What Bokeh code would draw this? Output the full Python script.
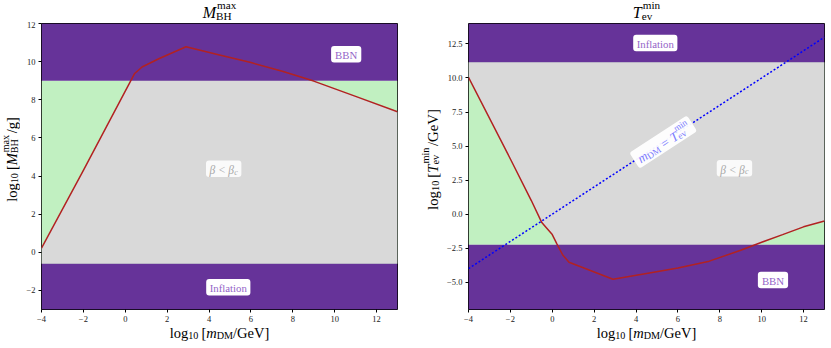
import math
from bokeh.plotting import figure
from bokeh.layouts import row, column
from bokeh.models import Range1d, Label, FixedTicker, CustomJSTickFormatter
from bokeh.embed import file_html
from bokeh.resources import INLINE

# ---------------- data ----------------
mdm_left = [-4, -2, 0, 0.45, 0.8, 1.6, 2.9, 4.5, 6, 7.5, 9, 11, 13]
log_mbh_max = [0.22, 4.3, 8.45, 9.38, 9.72, 10.15, 10.78, 10.35, 9.95, 9.5, 8.98, 8.18, 7.37]

mdm_right = [-4, -2, -1, -0.5, 0, 0.22, 0.5, 0.8, 2.9, 4.5, 6, 7.5, 9, 10, 11, 12, 13]
log_tev_min = [10.04, 4.05, 1.0, -0.62, -1.5, -2.18, -3.0, -3.53, -4.78, -4.35, -3.95,
               -3.45, -2.65, -2.06, -1.5, -0.93, -0.5]

diag_line = [-4, 13]          # m_DM = T_ev

mbh_bbn_limit = 9.0
mbh_inflation_limit = -0.6
tev_inflation_limit = 11.15
tev_bbn_limit = -2.25

x_lim = (-4, 13)
y_lim_left = (-3, 12)
y_lim_right = (-7, 14)
x_ticks = [-4, -2, 0, 2, 4, 6, 8, 10, 12]
y_ticks_left = [-2, 0, 2, 4, 6, 8, 10, 12]
y_ticks_right = [-5.0, -2.5, 0.0, 2.5, 5.0, 7.5, 10.0, 12.5]

# ---------------- style ----------------
SERIF = "Liberation Serif"
PURPLE = "#663399"
GREEN = "#c1f0c1"
GRAY = "#d9d9d9"
RED = "#b22222"
BLUE = "#0000ff"
LAV = "#9466c8"
FRAME_W = 356
FRAME_H = 286
TOP_B, BOT_B = 2, 17
TITLE_H, XLAB_H = 21, 21
MAIN_H = TOP_B + FRAME_H + BOT_B
BASE_FIX = 0.24   # renderer places the alphabetic baseline a bit low

ROMAN = {' ': 250, '[': 333, ']': 333, '/': 278, '=': 564, '<': 564,
         'a': 444, 'e': 444, 'g': 500, 'i': 278, 'l': 278, 'm': 778, 'n': 500,
         'o': 500, 'v': 500, 'x': 500, 'c': 444, 'f': 333, 't': 278,
         'B': 667, 'D': 722, 'G': 722, 'H': 722, 'I': 333, 'M': 889, 'N': 722,
         'T': 611, 'V': 722}
ITALIC = {'m': 722, 'M': 833, 'T': 556, 'β': 520, 'c': 444}


def tw(s, size, italic=False):
    tab = ITALIC if italic else ROMAN
    return sum(tab.get(c, 500) for c in s) * size / 1000.0


def layout_runs(runs, base):
    pieces = []
    x = 0.0
    small = base * 0.7
    for r in runs:
        k = r[0]
        if k == "t":
            it = r[2] if len(r) > 2 else False
            pieces.append((r[1], base, it, x, 0.0))
            x += tw(r[1], base, it)
        elif k == "s":
            it = r[2] if len(r) > 2 else False
            pieces.append((r[1], small, it, x, -0.2 * base))
            x += tw(r[1], small, it)
        elif k == "ss":
            pieces.append((r[1], small, False, x, -0.2 * base))
            pieces.append((r[2], small, False, x + 0.06 * base, 0.47 * base))
            x += max(tw(r[1], small), tw(r[2], small) + 0.06 * base)
        elif k == "g":
            x += r[1]
    return pieces, x


def place(p, x, y, runs, base, color, angle=0.0, centered=False, box=None):
    pieces, w = layout_runs(runs, base)
    ca, sa = math.cos(angle), math.sin(angle)
    vshift = -0.12 * base if centered else BASE_FIX * base
    if box is not None:
        padx, h, alpha = box
        r = p.rect(x=[x], y=[y], width=w + 2 * padx, height=h, width_units="screen",
                   height_units="screen", angle=angle, fill_color="white",
                   fill_alpha=alpha, line_color=None)
        try:
            r.glyph.border_radius = 3
        except Exception:
            pass
    for text, size, it, px, py in pieces:
        lx = px - w / 2.0
        ly = py + vshift
        ox = lx * ca - ly * sa
        oy = lx * sa + ly * ca
        p.add_layout(Label(x=x, y=y, text=text, x_offset=ox, y_offset=oy, angle=angle,
                           text_font=SERIF, text_font_size=f"{size:.2f}px",
                           text_font_style="italic" if it else "normal",
                           text_color=color, text_align="left",
                           text_baseline="alphabetic"))


def pad_fig(w, h):
    """Blank drawing strip (pixel data units) for titles and axis labels."""
    f = figure(width=w, height=h, x_range=Range1d(0, w), y_range=Range1d(0, h),
               x_axis_type=None, y_axis_type=None, output_backend="svg",
               toolbar_location=None, min_border=0)
    f.xgrid.visible = False
    f.ygrid.visible = False
    f.outline_line_color = None
    f.background_fill_color = "white"
    f.border_fill_color = "white"
    return f


def make_fig(ylim, yticks, dec, left_b, right_b):
    p = figure(frame_width=FRAME_W, frame_height=FRAME_H,
               x_range=Range1d(*x_lim), y_range=Range1d(*ylim),
               output_backend="svg", toolbar_location=None,
               min_border_left=left_b, min_border_right=right_b,
               min_border_top=TOP_B, min_border_bottom=BOT_B)
    p.xgrid.visible = False
    p.ygrid.visible = False
    p.outline_line_color = "black"
    p.outline_line_width = 1
    p.outline_line_alpha = 1.0
    p.background_fill_color = "white"
    p.border_fill_color = "white"
    for ax, ticks, d in ((p.xaxis, x_ticks, 0), (p.yaxis, yticks, dec)):
        ax.ticker = FixedTicker(ticks=ticks)
        ax.formatter = CustomJSTickFormatter(
            code=f"return (tick < 0 ? '\\u2212' : '') + Math.abs(tick).toFixed({d});")
        ax.axis_line_color = None
        ax.major_tick_out = 3
        ax.major_tick_in = 0
        ax.minor_tick_line_color = None
        ax.major_tick_line_color = "black"
        ax.major_label_text_font = SERIF
        ax.major_label_text_font_size = "8.5px"
        ax.major_label_text_color = "#222222"
        ax.major_label_standoff = 3
    return p


def beta_runs():
    return [("t", "β", True), ("g", 3.2), ("t", "<"), ("g", 3.2), ("t", "β", True),
            ("s", "c", True)]


XLABEL_RUNS = [("t", "log"), ("s", "10"), ("g", 3), ("t", "["), ("t", "m", True),
               ("s", "DM"), ("t", "/GeV]")]
XLAB_SIZE = 14.5

# ================= left panel =================
L_YLAB_W, L_LEFT_B, L_RIGHT_B = 20, 21, 18
L_W = L_YLAB_W + L_LEFT_B + FRAME_W + L_RIGHT_B
p1 = make_fig(y_lim_left, y_ticks_left, 0, L_LEFT_B, L_RIGHT_B)
p1.quad(left=[x_lim[0]], right=[x_lim[1]], bottom=[mbh_inflation_limit], top=[mbh_bbn_limit],
        fill_color=GREEN, line_color=None)
p1.varea(x=mdm_left, y1=[mbh_inflation_limit] * len(mdm_left), y2=log_mbh_max,
         fill_color=GRAY)
p1.quad(left=[x_lim[0]], right=[x_lim[1]], bottom=[mbh_bbn_limit], top=[y_lim_left[1]],
        fill_color=PURPLE, line_color=None)
p1.quad(left=[x_lim[0]], right=[x_lim[1]], bottom=[y_lim_left[0]], top=[mbh_inflation_limit],
        fill_color=PURPLE, line_color=None)
p1.line(mdm_left, log_mbh_max, line_color=RED, line_width=1.5)

place(p1, 10.55, 10.39, [("t", "BBN")], 10.8, LAV, centered=True, box=(4, 16.5, 1.0))
place(p1, 4.92, -1.83, [("t", "Inflation")], 10.8, LAV, centered=True, box=(3.5, 16.5, 1.0))
place(p1, 4.7, 4.38, beta_runs(), 11.5, "#a8a8a8", centered=True, box=(3.5, 16.5, 0.85))

cx1 = L_YLAB_W + L_LEFT_B + FRAME_W / 2.0
t1 = pad_fig(L_W, TITLE_H)
place(t1, cx1, TITLE_H - 16, [("t", "M", True), ("ss", "BH", "max")], 16, "black")
x1 = pad_fig(L_W, XLAB_H)
place(x1, cx1, XLAB_H - 10, XLABEL_RUNS, XLAB_SIZE, "black")
y1 = pad_fig(L_YLAB_W, MAIN_H)
place(y1, 15, MAIN_H - TOP_B - FRAME_H / 2.0,
      [("t", "log"), ("s", "10"), ("g", 3), ("t", "["), ("t", "M", True), ("ss", "BH", "max"),
       ("g", 1.5), ("t", "/g]")], 14.5, "black", angle=math.pi / 2)

panel1 = column(t1, row(y1, p1), x1)

# ================= right panel =================
R_YLAB_W, R_LEFT_B, R_RIGHT_B = 29, 24, 3
R_W = R_YLAB_W + R_LEFT_B + FRAME_W + R_RIGHT_B
p2 = make_fig(y_lim_right, y_ticks_right, 1, R_LEFT_B, R_RIGHT_B)
p2.quad(left=[x_lim[0]], right=[x_lim[1]], bottom=[tev_bbn_limit], top=[tev_inflation_limit],
        fill_color=GREEN, line_color=None)
p2.varea(x=mdm_right, y1=log_tev_min, y2=[tev_inflation_limit] * len(mdm_right),
         fill_color=GRAY)
p2.quad(left=[x_lim[0]], right=[x_lim[1]], bottom=[tev_inflation_limit], top=[y_lim_right[1]],
        fill_color=PURPLE, line_color=None)
p2.quad(left=[x_lim[0]], right=[x_lim[1]], bottom=[y_lim_right[0]], top=[tev_bbn_limit],
        fill_color=PURPLE, line_color=None)
p2.line(mdm_right, log_tev_min, line_color=RED, line_width=1.5)
p2.line(diag_line, diag_line, line_color=BLUE, line_width=1.5, line_dash="2 2")

ang = math.atan2(FRAME_H / (y_lim_right[1] - y_lim_right[0]),
                 FRAME_W / (x_lim[1] - x_lim[0]))
place(p2, 5.3, 5.3, [("t", "m", True), ("s", "DM"), ("g", 3.6), ("t", "="), ("g", 3.6),
                     ("t", "T", True), ("ss", "ev", "min")], 13, "#7b7bff", angle=ang,
      centered=True, box=(4, 19, 0.95))
place(p2, 4.92, 12.57, [("t", "Inflation")], 10.8, LAV, centered=True, box=(3.5, 16.5, 1.0))
place(p2, 10.54, -4.83, [("t", "BBN")], 10.8, LAV, centered=True, box=(4, 16.5, 1.0))
place(p2, 8.7, 3.38, beta_runs(), 11.5, "#a8a8a8", centered=True, box=(3.5, 16.5, 0.85))

cx2 = R_YLAB_W + R_LEFT_B + FRAME_W / 2.0
t2 = pad_fig(R_W, TITLE_H)
place(t2, cx2, TITLE_H - 16, [("t", "T", True), ("ss", "ev", "min")], 16, "black")
x2 = pad_fig(R_W, XLAB_H)
place(x2, cx2, XLAB_H - 10, XLABEL_RUNS, XLAB_SIZE, "black")
y2 = pad_fig(R_YLAB_W, MAIN_H)
place(y2, 21, MAIN_H - TOP_B - FRAME_H / 2.0,
      [("t", "log"), ("s", "10"), ("g", 3), ("t", "["), ("t", "T", True), ("ss", "ev", "min"),
       ("g", 1.5), ("t", "/GeV]")], 14.8, "black", angle=math.pi / 2)

panel2 = column(t2, row(y2, p2), x2)

layout = row(panel1, panel2)
open("out.html", "w").write(file_html(layout, INLINE))
